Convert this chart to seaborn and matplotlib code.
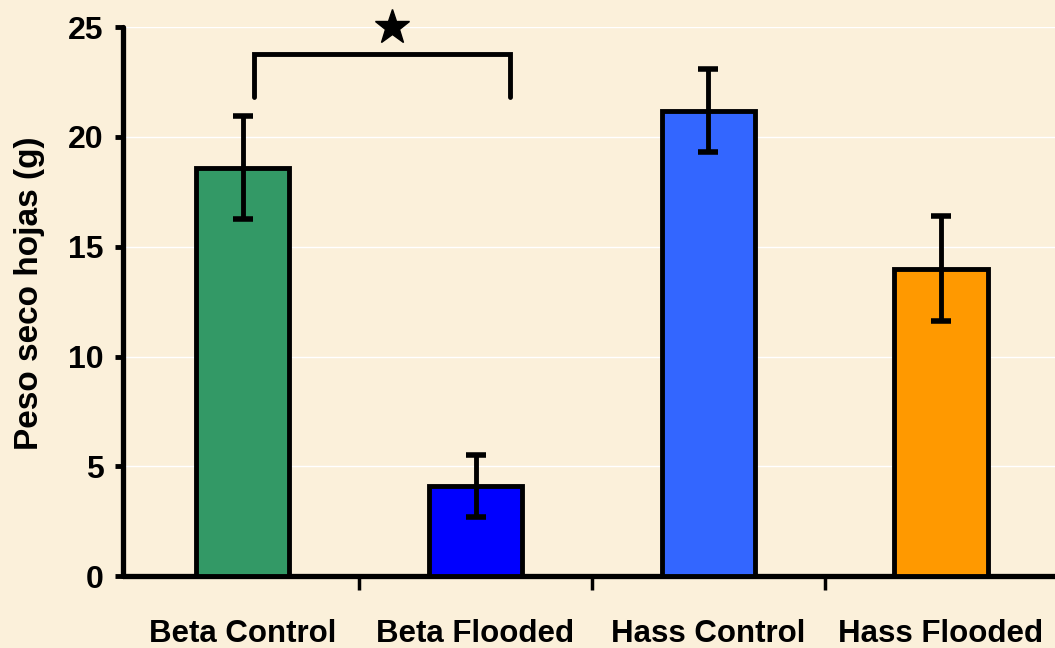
import matplotlib
matplotlib.use("Agg")
import matplotlib.pyplot as plt
import seaborn as sns
import pandas as pd

# Leaf dry weight per treatment
categories = ["Beta Control", "Beta Flooded", "Hass Control", "Hass Flooded"]
means = [18.6, 4.1, 21.2, 14.0]
errors = [2.35, 1.4, 1.9, 2.4]
bar_colors = ["#339966", "#0000FF", "#3366FF", "#FF9900"]
y_ticks = [0, 5, 10, 15, 20, 25]
y_label = "Peso seco hojas (g)"

# Significance bracket between the two Beta groups
bracket_y = 23.8
bracket_leg_bottom = 21.8
bracket_left = 0.05
bracket_right = 1.15
star_x = 0.64
star_y = 25.0

bg = "#FBF0DA"

sns.set_theme(style="white")
plt.rcParams["font.family"] = ["Liberation Sans", "DejaVu Sans"]
plt.rcParams["font.weight"] = "bold"

df = pd.DataFrame({"group": categories, "peso": means})

fig = plt.figure(figsize=(10.55, 6.48), dpi=100)
fig.patch.set_facecolor(bg)
ax = fig.add_axes([0.1166, 0.111, 0.8834, 0.847])
ax.set_facecolor(bg)

sns.barplot(data=df, x="group", y="peso", hue="group", order=categories,
            palette=bar_colors, saturation=1, width=0.40, edgecolor="black",
            linewidth=3.5, legend=False, ax=ax, zorder=3)

eb = ax.errorbar(range(len(categories)), means, yerr=errors, fmt="none",
                 ecolor="black", elinewidth=3.5, capsize=7, capthick=4,
                 zorder=4)
for cap in eb[1]:
    cap.set_solid_capstyle("round")

ax.set_xlim(-0.515, 3.49)
ax.set_ylim(0, 25)
ax.set_yticks(y_ticks)
ax.set_yticklabels([str(t) for t in y_ticks])
ax.grid(axis="y", color="white", linewidth=1.0, zorder=0)
ax.set_axisbelow(True)

# Category ticks sit between the bars
ax.set_xticks([0.5, 1.5, 2.5])
ax.set_xticklabels([])
for i, name in enumerate(categories):
    ax.text(i, -0.078, name, transform=ax.get_xaxis_transform(), ha="center",
            va="top", fontsize=22.5, fontweight="bold", color="black")

ax.set_xlabel("")
ax.set_ylabel(y_label, fontsize=24, fontweight="bold", color="black")
ax.yaxis.set_label_coords(-0.084, 0.515)

for side in ["top", "right"]:
    ax.spines[side].set_visible(False)
for side in ["left", "bottom"]:
    ax.spines[side].set_linewidth(3.8)
    ax.spines[side].set_color("black")
    ax.spines[side].set_capstyle("round")

ax.tick_params(axis="y", which="major", direction="out", length=6, width=3.5,
               color="black", labelcolor="black", labelsize=23, pad=8,
               left=True)
ax.tick_params(axis="x", which="major", direction="out", length=10, width=2.5,
               color="black", bottom=True)
for lbl in ax.get_yticklabels():
    lbl.set_fontweight("bold")

ax.plot([bracket_left, bracket_left, bracket_right, bracket_right],
        [bracket_leg_bottom, bracket_y, bracket_y, bracket_leg_bottom],
        color="black", linewidth=3.5, solid_joinstyle="miter", clip_on=False,
        zorder=5)
ax.plot([star_x], [star_y], marker="*", markersize=26, color="black",
        linestyle="none", clip_on=False, zorder=5)

fig.savefig("out.png", dpi=100, facecolor=bg)
